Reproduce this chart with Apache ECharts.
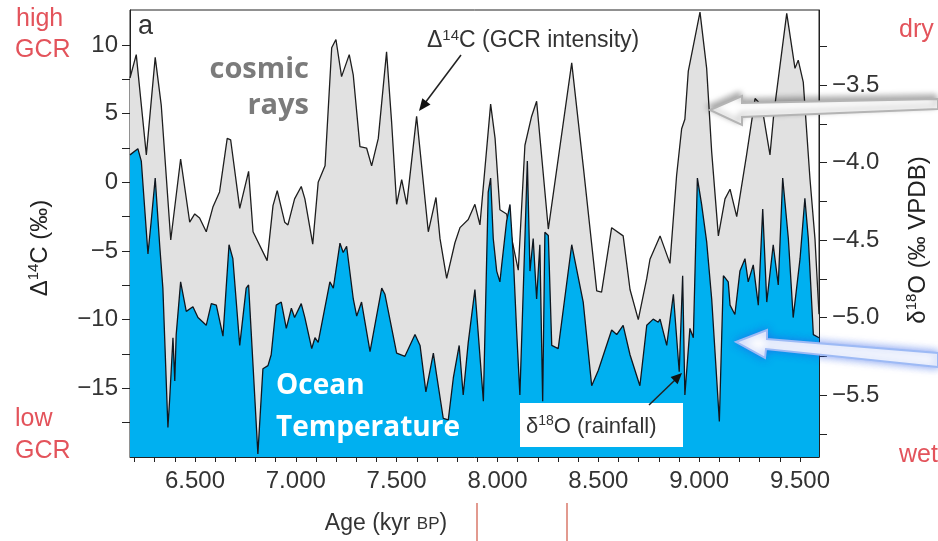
<!DOCTYPE html>
<html>
<head>
<meta charset="utf-8">
<title>Δ14C and δ18O</title>
<script src="https://cdn.jsdelivr.net/npm/echarts@6/dist/echarts.min.js"></script>
<style>
  html, body { margin: 0; padding: 0; background: #fff; }
  #chart { width: 938px; height: 541px; }
</style>
</head>
<body>
<div id="chart"></div>
<script>
// Δ14C (GCR intensity) - left axis, per mil
var c14Age = [6.178, 6.209, 6.259, 6.303, 6.333, 6.380, 6.429, 6.474, 6.499, 6.523,
  6.556, 6.589, 6.622, 6.660, 6.677, 6.722, 6.766, 6.788, 6.858, 6.887,
  6.908, 6.945, 6.961, 6.994, 7.027, 7.045, 7.084, 7.111, 7.145, 7.178,
  7.199, 7.227, 7.265, 7.285, 7.318, 7.351, 7.376, 7.409, 7.450, 7.475,
  7.500, 7.525, 7.550, 7.599, 7.657, 7.695, 7.715, 7.748, 7.789, 7.814,
  7.855, 7.888, 7.913, 7.966, 7.988, 8.012, 8.045, 8.103, 8.136, 8.169,
  8.194, 8.252, 8.368, 8.425, 8.492, 8.516, 8.566, 8.623, 8.657, 8.698,
  8.740, 8.756, 8.806, 8.855, 8.888, 8.913, 8.929, 8.946, 9.004, 9.037,
  9.062, 9.095, 9.128, 9.153, 9.186, 9.235, 9.277, 9.310, 9.351, 9.370,
  9.434, 9.475, 9.491, 9.516, 9.549, 9.574, 9.594];
var c14Val = [7.6, 9.3, 2.0, 9.1, 5.6, -4.2, 1.7, -2.9, -2.3, -2.6,
  -3.6, -1.8, -0.7, 3.2, 3.1, -1.9, 0.8, -3.6, -5.7, -1.7,
  -0.6, -2.9, -3.1, -1.2, -0.3, -1.2, -4.5, 0.0, 1.2, 9.8,
  10.4, 7.7, 9.3, 7.8, 2.6, 2.5, 1.2, 3.2, 9.5, 4.4,
  -1.6, 0.2, -1.6, 4.8, -3.6, -1.1, -4.1, -7.0, -4.4, -3.3,
  -2.7, -1.6, -3.1, 5.7, 3.2, -2.0, -2.3, -6.4, 2.7, 4.8,
  5.9, -3.4, 8.7, 1.2, -7.9, -8.0, -3.3, -3.9, -7.8, -10.0,
  -7.0, -5.6, -3.9, -5.9, 0.5, 3.9, 4.6, 8.1, 12.4, 8.3,
  2.2, -3.9, -1.2, -0.5, -2.5, 2.0, 6.1, 5.6, 2.0, 5.0,
  12.3, 8.3, 8.9, 7.3, 0.3, -4.1, -9.6];

// δ18O (rainfall) - right axis, per mil VPDB
var o18Age = [6.178, 6.217, 6.234, 6.267, 6.283, 6.303, 6.325, 6.341, 6.366, 6.375,
  6.391, 6.400, 6.407, 6.429, 6.457, 6.490, 6.515, 6.556, 6.581, 6.606,
  6.639, 6.669, 6.688, 6.722, 6.754, 6.766, 6.788, 6.812, 6.837, 6.862,
  6.878, 6.903, 6.928, 6.953, 6.978, 6.994, 7.027, 7.045, 7.079, 7.095,
  7.111, 7.169, 7.186, 7.219, 7.235, 7.252, 7.285, 7.302, 7.326, 7.368,
  7.426, 7.442, 7.500, 7.541, 7.591, 7.616, 7.645, 7.682, 7.698, 7.731,
  7.756, 7.781, 7.810, 7.830, 7.855, 7.888, 7.930, 7.954, 7.966, 7.979,
  7.996, 8.012, 8.021, 8.045, 8.062, 8.078, 8.095, 8.111, 8.136, 8.148,
  8.161, 8.177, 8.194, 8.210, 8.224, 8.235, 8.252, 8.269, 8.301, 8.368,
  8.425, 8.467, 8.500, 8.566, 8.591, 8.623, 8.657, 8.706, 8.740, 8.772,
  8.797, 8.806, 8.839, 8.872, 8.901, 8.918, 8.929, 8.954, 8.971, 8.991,
  9.012, 9.037, 9.062, 9.100, 9.120, 9.144, 9.153, 9.177, 9.202, 9.227,
  9.243, 9.268, 9.293, 9.315, 9.335, 9.367, 9.392, 9.414, 9.442, 9.466,
  9.500, 9.524, 9.541, 9.566, 9.594];
var o18Val = [-3.95, -3.91, -3.99, -4.59, -4.38, -4.10, -4.53, -4.81, -5.71, -5.52,
  -5.13, -5.41, -5.11, -4.77, -4.96, -4.93, -5.00, -5.05, -4.91, -4.92,
  -5.12, -4.53, -4.62, -5.18, -4.81, -4.79, -5.31, -5.88, -5.33, -5.31,
  -5.24, -4.92, -4.90, -5.07, -4.94, -5.00, -4.91, -5.00, -5.20, -5.13,
  -5.16, -4.77, -4.81, -4.52, -4.58, -4.54, -4.88, -4.99, -4.90, -5.22,
  -4.81, -4.85, -5.23, -5.25, -5.11, -5.18, -5.48, -5.23, -5.37, -5.65,
  -5.66, -5.39, -5.18, -5.50, -5.16, -4.82, -5.54, -4.19, -4.10, -4.49,
  -4.70, -4.77, -4.66, -4.38, -4.27, -4.60, -5.09, -5.50, -4.49, -3.99,
  -4.70, -4.49, -4.88, -4.53, -5.54, -4.45, -4.47, -5.18, -5.20, -4.53,
  -4.90, -5.44, -5.34, -5.08, -5.11, -5.05, -5.24, -5.44, -5.05, -5.01,
  -5.03, -5.01, -5.18, -4.85, -5.35, -4.73, -5.50, -5.07, -5.13, -4.10,
  -4.27, -4.51, -4.88, -5.67, -4.73, -4.77, -4.92, -4.98, -4.70, -4.62,
  -4.77, -4.66, -4.92, -4.30, -4.90, -4.53, -4.79, -4.10, -4.49, -5.00,
  -4.62, -4.23, -4.49, -5.11, -5.13];

// axis ticks and labels
var ageLabels = [6.5, 7.0, 7.5, 8.0, 8.5, 9.0, 9.5];
var ageTicks = [6.2, 6.3, 6.4, 6.5, 6.6, 6.7, 6.8, 6.9, 7.0, 7.1, 7.2, 7.3, 7.4, 7.5,
  7.6, 7.7, 7.8, 7.9, 8.0, 8.1, 8.2, 8.3, 8.4, 8.5, 8.6, 8.7, 8.8, 8.9, 9.0,
  9.1, 9.2, 9.3, 9.4, 9.5];
var c14Labels = [-15, -10, -5, 0, 5, 10];
var c14Ticks = [-17.5, -15, -12.5, -10, -7.5, -5, -2.5, 0, 2.5, 5, 7.5, 10];
var o18Labels = [-5.5, -5.0, -4.5, -4.0, -3.5];
var o18Ticks = [-5.75, -5.5, -5.25, -5.0, -4.75, -4.5, -4.25, -4.0, -3.75, -3.5, -3.25];

var FONT = '"Liberation Sans", Arial, sans-serif';
var RED = '#e3535b';

function pairs(xs, ys) {
  return xs.map(function (x, i) { return [x, ys[i]]; });
}
function minus(s) {
  return s.replace('-', '\u2212');
}

var chart = echarts.init(document.getElementById('chart'));

chart.setOption({
  animation: false,
  grid: {
    left: 130, top: 10, right: 119, bottom: 84,
    show: true, borderColor: '#222', borderWidth: 1
  },
  xAxis: {
    type: 'value',
    min: 6.178,
    max: 9.594,
    axisLine: { onZero: false, lineStyle: { color: '#222', width: 1 } },
    axisTick: { customValues: ageTicks, length: 5, lineStyle: { color: '#222' } },
    axisLabel: {
      customValues: ageLabels,
      margin: 12,
      fontSize: 24,
      fontFamily: FONT,
      color: '#333',
      formatter: function (v) { return v.toFixed(3); }
    },
    splitLine: { show: false }
  },
  yAxis: [
    {
      type: 'value',
      position: 'left',
      min: -20,
      max: 12.55,
      axisLine: { show: true, onZero: false, lineStyle: { color: '#222' } },
      axisTick: { show: true, customValues: c14Ticks, length: 8, lineStyle: { color: '#222' } },
      axisLabel: {
        customValues: c14Labels,
        margin: 12,
        fontSize: 24,
        fontFamily: FONT,
        color: '#333',
        formatter: function (v) { return minus(String(v)); }
      },
      splitLine: { show: false }
    },
    {
      type: 'value',
      position: 'right',
      min: -5.9,
      max: -3.015,
      axisLine: { show: true, onZero: false, lineStyle: { color: '#222' } },
      axisTick: { show: true, customValues: o18Ticks, length: 8, lineStyle: { color: '#222' } },
      axisLabel: {
        customValues: o18Labels,
        margin: 13,
        fontSize: 24,
        fontFamily: FONT,
        color: '#333',
        formatter: function (v) { return minus(v.toFixed(1)); }
      },
      splitLine: { show: false }
    }
  ],
  series: [
    {
      name: 'Δ14C',
      type: 'line',
      yAxisIndex: 0,
      showSymbol: false,
      data: pairs(c14Age, c14Val),
      lineStyle: { color: '#1e1e1e', width: 1.3 },
      areaStyle: { color: '#e1e1e1', opacity: 1, origin: 'start' },
      z: 2
    },
    {
      name: 'δ18O',
      type: 'line',
      yAxisIndex: 1,
      showSymbol: false,
      data: pairs(o18Age, o18Val),
      lineStyle: { color: '#10161e', width: 1.3 },
      areaStyle: { color: '#00b0f0', opacity: 1, origin: 'start' },
      z: 3
    }
  ],
  graphic: [
    // corner words
    { type: 'text', x: 16, y: 19, z: 100, style: { text: 'high', fill: RED, font: '25px ' + FONT, verticalAlign: 'middle' } },
    { type: 'text', x: 15, y: 50, z: 100, style: { text: 'GCR', fill: RED, font: '25px ' + FONT, verticalAlign: 'middle' } },
    { type: 'text', x: 15, y: 419, z: 100, style: { text: 'low', fill: RED, font: '25px ' + FONT, verticalAlign: 'middle' } },
    { type: 'text', x: 15, y: 451, z: 100, style: { text: 'GCR', fill: RED, font: '25px ' + FONT, verticalAlign: 'middle' } },
    { type: 'text', x: 899, y: 30, z: 100, style: { text: 'dry', fill: RED, font: '25px ' + FONT, verticalAlign: 'middle' } },
    { type: 'text', x: 899, y: 455, z: 100, style: { text: 'wet', fill: RED, font: '25px ' + FONT, verticalAlign: 'middle' } },
    { type: 'text', x: 138, y: 27, z: 100, style: { text: 'a', fill: '#333', font: '27px ' + FONT, verticalAlign: 'middle' } },

    // big annotations
    { type: 'text', x: 309, y: 70, z: 100, style: { text: 'cosmic', fill: '#7b7b7b', font: 'bold 29px "Open Sans", sans-serif', align: 'right', verticalAlign: 'middle' } },
    { type: 'text', x: 309, y: 106, z: 100, style: { text: 'rays', fill: '#7b7b7b', font: 'bold 29px "Open Sans", sans-serif', align: 'right', verticalAlign: 'middle' } },
    { type: 'text', x: 276, y: 386, z: 100, style: { text: 'Ocean', fill: '#fff', font: 'bold 28px "Open Sans", sans-serif', verticalAlign: 'middle' } },
    { type: 'text', x: 276, y: 428, z: 100, style: { text: 'Temperature', fill: '#fff', font: 'bold 28px "Open Sans", sans-serif', verticalAlign: 'middle' } },

    // Δ14C label + pointer
    {
      type: 'text', x: 427, y: 41, z: 100,
      style: {
        text: '{a|Δ}{s|14}{a|C (GCR intensity)}',
        verticalAlign: 'middle',
        rich: {
          a: { fontSize: 23, fontFamily: FONT, fill: '#333', lineHeight: 26 },
          s: { fontSize: 15, fontFamily: FONT, fill: '#333', verticalAlign: 'top', lineHeight: 16 }
        }
      }
    },
    { type: 'line', z: 100, shape: { x1: 461, y1: 55, x2: 425, y2: 103 }, style: { stroke: '#222', lineWidth: 1.5 } },
    { type: 'polygon', z: 100, shape: { points: [[419, 111], [430.5, 104.5], [422.3, 98.3]] }, style: { fill: '#111' } },

    // δ18O label + pointer
    { type: 'rect', z: 99, shape: { x: 520, y: 403, width: 163, height: 44 }, style: { fill: '#fff' } },
    {
      type: 'text', x: 526, y: 427, z: 100,
      style: {
        text: '{a|δ}{s|18}{a|O (rainfall)}',
        verticalAlign: 'middle',
        rich: {
          a: { fontSize: 22, fontFamily: FONT, fill: '#333', lineHeight: 25 },
          s: { fontSize: 14, fontFamily: FONT, fill: '#333', verticalAlign: 'top', lineHeight: 15 }
        }
      }
    },
    { type: 'line', z: 100, shape: { x1: 649, y1: 405, x2: 675, y2: 380 }, style: { stroke: '#222', lineWidth: 1.5 } },
    { type: 'polygon', z: 100, shape: { points: [[682, 373], [677.6, 384.3], [670.6, 377.1]] }, style: { fill: '#111' } },

    // gray arrow
    {
      type: 'polygon', z: 100,
      shape: { points: [[710, 110], [742, 96], [742, 103], [938, 99], [938, 109], [742, 117], [742, 125]] },
      style: { fill: '#fff', stroke: '#b4b4b4', lineWidth: 2, shadowBlur: 6, shadowColor: 'rgba(0,0,0,0.35)', shadowOffsetX: -2, shadowOffsetY: -3 }
    },
    // blue arrow
    {
      type: 'polygon', z: 100,
      shape: { points: [[736, 342], [767, 330], [767, 339], [938, 353], [938, 367], [766, 349], [765, 358]] },
      style: { fill: '#fff', stroke: '#9dbaf5', lineWidth: 2, shadowBlur: 8, shadowColor: 'rgba(40,90,230,0.6)', shadowOffsetX: 0, shadowOffsetY: 0 }
    },

    // red marks under x axis
    { type: 'line', z: 100, shape: { x1: 477, y1: 503, x2: 477, y2: 541 }, style: { stroke: '#d9786a', lineWidth: 1.5 } },
    { type: 'line', z: 100, shape: { x1: 567, y1: 503, x2: 567, y2: 541 }, style: { stroke: '#d9786a', lineWidth: 1.5 } },

    // axis names
    {
      type: 'text', x: 40, y: 248, rotation: Math.PI / 2, z: 100,
      style: {
        text: '{a|Δ}{s|14}{a|C (‰)}',
        align: 'center', verticalAlign: 'middle',
        rich: {
          a: { fontSize: 24, fontFamily: FONT, fill: '#222', lineHeight: 27 },
          s: { fontSize: 15, fontFamily: FONT, fill: '#222', verticalAlign: 'top', lineHeight: 16 }
        }
      }
    },
    {
      type: 'text', x: 918, y: 240, rotation: Math.PI / 2, z: 100,
      style: {
        text: '{a|δ}{s|18}{a|O (‰ VPDB)}',
        align: 'center', verticalAlign: 'middle',
        rich: {
          a: { fontSize: 24, fontFamily: FONT, fill: '#222', lineHeight: 27 },
          s: { fontSize: 15, fontFamily: FONT, fill: '#222', verticalAlign: 'top', lineHeight: 16 }
        }
      }
    },
    {
      type: 'text', x: 386, y: 524, z: 100,
      style: {
        text: '{a|Age (kyr }{b|BP}{a|)}',
        align: 'center', verticalAlign: 'middle',
        rich: {
          a: { fontSize: 23, fontFamily: FONT, fill: '#333', lineHeight: 26 },
          b: { fontSize: 17, fontFamily: FONT, fill: '#333', lineHeight: 26 }
        }
      }
    }
  ]
});
</script>
</body>
</html>
